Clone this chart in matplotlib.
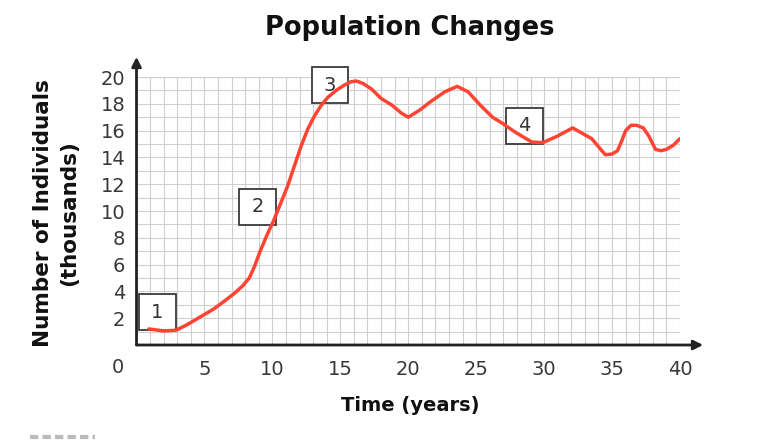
import matplotlib
matplotlib.use("Agg")
import matplotlib.pyplot as plt
from matplotlib.patches import Rectangle

# ── DATA ────────────────────────────────────────────────────
years = [0.9, 2.0, 2.9, 3.7, 4.7, 5.7, 6.5, 7.2, 7.8, 8.3, 8.7, 9.1, 9.6,
         10.1, 11.1, 12.1, 12.6, 13.1, 13.6, 14.1, 14.7, 15.3, 15.8, 16.2,
         16.7, 17.3, 18.0, 18.8, 19.5, 20.0, 20.8, 21.7, 22.7, 23.6, 24.4,
         25.3, 26.2, 27.0, 27.7, 28.5, 29.1, 29.9, 31.0, 32.1, 33.5, 34.0,
         34.5, 35.0, 35.4, 35.7, 36.0, 36.4, 36.8, 37.3, 37.7, 38.2, 38.6,
         39.0, 39.5, 40.0]
individuals = [1.2, 1.05, 1.1, 1.5, 2.1, 2.7, 3.3, 3.85, 4.4, 5.0, 5.9, 7.0,
               8.2, 9.3, 11.8, 14.8, 16.1, 17.1, 17.9, 18.5, 19.0, 19.4, 19.65,
               19.7, 19.5, 19.1, 18.4, 17.9, 17.3, 17.0, 17.5, 18.2, 18.9,
               19.3, 18.9, 17.9, 17.0, 16.5, 16.0, 15.5, 15.15, 15.1, 15.6,
               16.2, 15.4, 14.8, 14.2, 14.25, 14.5, 15.2, 16.0, 16.4, 16.4,
               16.2, 15.6, 14.6, 14.5, 14.6, 14.9, 15.4]

stage_labels = ["1", "2", "3", "4"]
stage_x = [1.55, 8.9, 14.25, 28.55]   # box centres
stage_y = [2.45, 10.3, 19.4, 16.35]

x_ticks = [5, 10, 15, 20, 25, 30, 35, 40]
y_ticks = [2, 4, 6, 8, 10, 12, 14, 16, 18, 20]

plt.rcParams['font.family'] = ['DejaVu Sans']

fig = plt.figure(figsize=(7.84, 4.4), dpi=100)
ax = fig.add_axes([136.5 / 784, 1 - 345 / 440, (680 - 136.5) / 784, 268 / 440])

ax.set_xlim(0, 40)
ax.set_ylim(0, 20)

# ── GRID ────────────────────────────────────────────────────
ax.set_xticks(range(0, 41), minor=True)
ax.set_yticks(range(0, 21), minor=True)
ax.set_xticks(x_ticks)
ax.set_yticks(y_ticks)
ax.grid(which='both', color='#cfcfcf', linewidth=0.8)
ax.set_axisbelow(True)
ax.tick_params(which='both', length=0)
ax.tick_params(axis='y', pad=8, labelsize=14, labelcolor='#383838')
ax.tick_params(axis='x', pad=11, labelsize=14, labelcolor='#383838')
for s in ax.spines.values():
    s.set_visible(False)

# axes with arrow heads
ax.annotate('', xy=(0, 21.5), xytext=(0, 0), annotation_clip=False,
            arrowprops=dict(arrowstyle='-|>', color='#222222', lw=2,
                            mutation_scale=14, shrinkA=0, shrinkB=0))
ax.annotate('', xy=(41.7, 0), xytext=(0, 0), annotation_clip=False,
            arrowprops=dict(arrowstyle='-|>', color='#222222', lw=2,
                            mutation_scale=14, shrinkA=0, shrinkB=0))
ax.text(-1.35, -1.7, '0', fontsize=14, color='#383838', ha='center', va='center',
        clip_on=False)

# ── STAGE BOXES ─────────────────────────────────────────────
for lab, cx, cy in zip(stage_labels, stage_x, stage_y):
    ax.add_patch(Rectangle((cx - 1.35, cy - 1.35), 2.7, 2.7, facecolor='white',
                           edgecolor='#3a3a3a', lw=1.3, zorder=3, clip_on=False))
    ax.text(cx, cy, lab, fontsize=14, color='#333333', ha='center', va='center',
            zorder=4)

# ── CURVE ───────────────────────────────────────────────────
ax.plot(years, individuals, color='#ff4433', lw=2.5, solid_capstyle='round',
        solid_joinstyle='round', zorder=5)

# ── TEXT ────────────────────────────────────────────────────
fig.text(410 / 784, 1 - 28 / 440, 'Population Changes', fontsize=18.5,
         fontweight='bold', ha='center', va='center', color='#111111')
fig.text(410 / 784, 1 - 405 / 440, 'Time (years)', fontsize=14,
         fontweight='bold', ha='center', va='center', color='#111111')
fig.text(56 / 784, 1 - 213 / 440, 'Number of Individuals\n(thousands)',
         fontsize=15.5, fontweight='bold', ha='center', va='center',
         rotation=90, linespacing=1.35, color='#111111')

# cropped fragment at the bottom left
fig.add_artist(plt.Line2D([30 / 784, 95 / 784], [1 - 437 / 440] * 2,
                          color='#bbbbbb', lw=3, ls=(0, (2, 1))))

fig.savefig('out.png', dpi=100, facecolor='white')
